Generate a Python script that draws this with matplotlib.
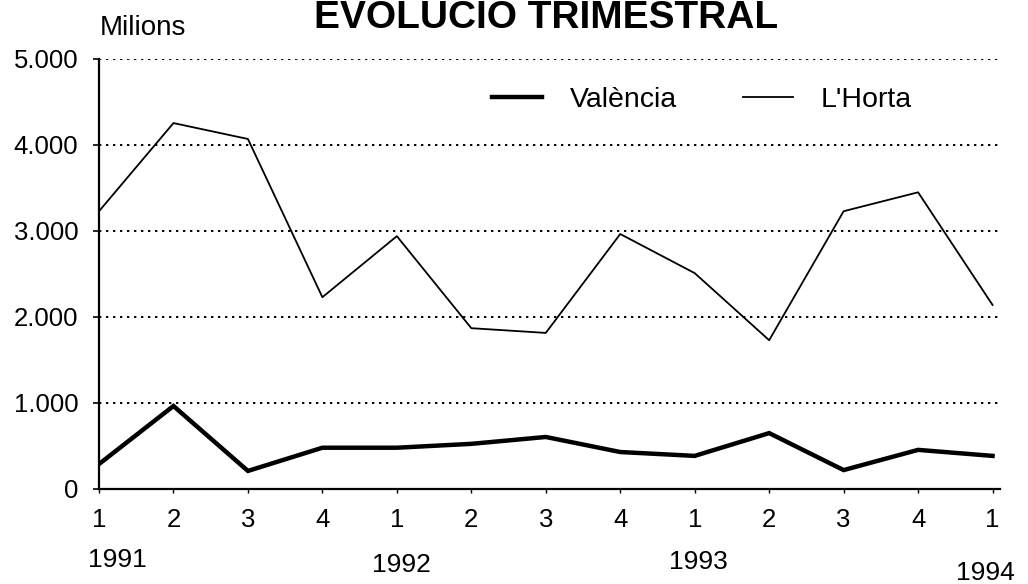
import numpy as np
import matplotlib
matplotlib.use("Agg")
import matplotlib.pyplot as plt
from matplotlib.ticker import FuncFormatter
from matplotlib.transforms import blended_transform_factory, offset_copy

plt.rcParams['font.family'] = ['Liberation Sans', 'DejaVu Sans']

# data (millions)
quarters = ['1', '2', '3', '4', '1', '2', '3', '4', '1', '2', '3', '4', '1']
years = ['1991', '1992', '1993', '1994']
valencia = [290, 965, 210, 480, 480, 525, 605, 430, 385, 650, 220, 455, 385]
horta = [3230, 4255, 4070, 2230, 2940, 1870, 1815, 2965, 2510, 1730, 3230, 3450, 2140]

fig = plt.figure(figsize=(10.28, 5.84), dpi=100)
ax = fig.add_axes([99 / 1028, 95 / 584, 901 / 1028, 430 / 584])

x = np.arange(len(quarters))
ax.plot(x, valencia, color='black', lw=3.2, label='València', solid_joinstyle='miter')
ax.plot(x, horta, color='black', lw=1.3, label="L'Horta")

ax.set_xlim(0, 12.1)
ax.set_ylim(0, 5000)
ax.set_yticks(np.arange(0, 5001, 1000))
ax.yaxis.set_major_formatter(FuncFormatter(lambda v, p: f'{int(v):,}'.replace(',', '.')))
ax.set_xticks(x)
ax.set_xticklabels(quarters)

ax.grid(axis='y', color='black', linestyle=(0, (1.2, 2.4)), lw=1.4)
ax.set_axisbelow(True)
for s in ['top', 'right']:
    ax.spines[s].set_visible(False)
ax.spines['left'].set_linewidth(1.6)
ax.spines['bottom'].set_linewidth(1.6)

ax.tick_params(axis='y', direction='out', length=4, width=1.2, pad=11, labelsize=18.5)
ax.tick_params(axis='x', direction='out', length=3, width=1, pad=11, labelsize=18.5)

# year labels under the first quarter of each year
trans = blended_transform_factory(ax.transData, fig.transFigure)
year_pos = [0, 4, 8, 12]
year_dx = [18, 5, 4, -7]
year_y = [560, 565, 562, 573]
for yr, xp, dx, yp in zip(years, year_pos, year_dx, year_y):
    t = offset_copy(trans, fig=fig, x=dx, y=0, units='dots')
    ax.text(xp, 1 - yp / 584, yr, transform=t, ha='center', va='center', fontsize=19)

fig.text(100 / 1028, 1 - 28 / 584, 'Milions', ha='left', va='center', fontsize=20)
fig.text(546 / 1028, 1 - 28 / 584, 'EVOLUCIÓ TRIMESTRAL', ha='center', va='baseline',
         fontsize=28, fontweight='bold')

ax.legend(loc='center', bbox_to_anchor=(702 / 1028, 1 - 100 / 584),
          bbox_transform=fig.transFigure, ncol=2, frameon=False, fontsize=20.5,
          handlelength=1.75, handletextpad=1.0, columnspacing=2.3)

fig.savefig('out.png', dpi=100)
